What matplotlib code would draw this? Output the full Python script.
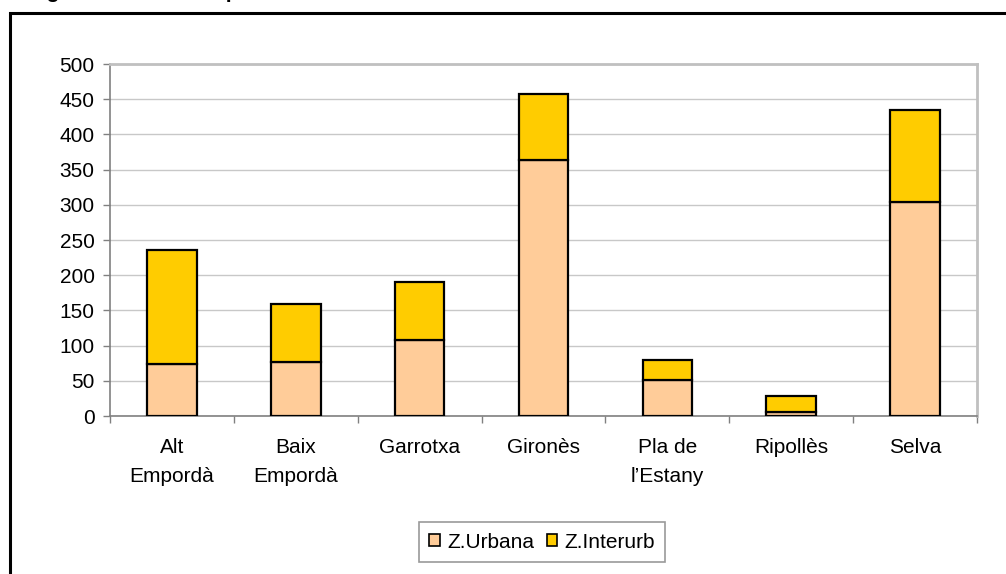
import numpy as np
import matplotlib.pyplot as plt
from matplotlib.patches import Rectangle

# dades
comarques = ["Alt\nEmpordà", "Baix\nEmpordà", "Garrotxa", "Gironès",
             "Pla de\nl\u2019Estany", "Ripollès", "Selva"]
urbana = [74, 77, 108, 364, 51, 5, 304]
interurb_total = [236, 159, 190, 457, 80, 28, 435]
interurb = [t - u for t, u in zip(interurb_total, urbana)]
yticks = [0, 50, 100, 150, 200, 250, 300, 350, 400, 450, 500]

plt.rcParams['font.family'] = ['Liberation Sans', 'DejaVu Sans']

fig = plt.figure(figsize=(10.06, 5.74), dpi=100)
ax = fig.add_axes([110 / 1006, 1 - 416 / 574, 867 / 1006, 352 / 574])

x = np.arange(len(comarques))
c_urb = "#FFCC99"
c_int = "#FFCC00"
ax.bar(x, urbana, width=0.4, color=c_urb, edgecolor="black", linewidth=1.6, zorder=3)
ax.bar(x, interurb, width=0.4, bottom=urbana, color=c_int, edgecolor="black",
       linewidth=1.6, zorder=3)

ax.set_xlim(-0.5, len(comarques) - 0.5)
ax.set_ylim(0, 500)
ax.set_yticks(yticks)
ax.yaxis.grid(True, color="#c8c8c8", linewidth=1, zorder=0)

# etiquetes centrades, marques entre categories
ax.set_xticks(x)
ax.set_xticklabels(comarques, linespacing=1.65, fontsize=15)
ax.set_xticks(np.arange(-0.5, len(comarques)), minor=True)
ax.tick_params(axis="x", which="major", length=0, pad=16)
ax.tick_params(axis="x", which="minor", length=5, width=1, color="#808080")
ax.tick_params(axis="y", length=5, width=1, color="#808080", pad=6, labelsize=15)

for s in ["left", "bottom"]:
    ax.spines[s].set_color("#808080")
    ax.spines[s].set_linewidth(1.2)
for s in ["top", "right"]:
    ax.spines[s].set_color("#c0c0c0")
    ax.spines[s].set_linewidth(2)

handles = [Rectangle((0, 0), 1, 1, facecolor=c_urb, edgecolor="black", linewidth=1.2),
           Rectangle((0, 0), 1, 1, facecolor=c_int, edgecolor="black", linewidth=1.2)]
leg = fig.legend(handles, ["Z.Urbana", "Z.Interurb"], loc="center",
                 bbox_to_anchor=(542 / 1006, 1 - 542 / 574), ncol=2, fontsize=15,
                 frameon=True, fancybox=False, edgecolor="#808080",
                 handlelength=0.5, handleheight=0.5, handletextpad=0.35,
                 columnspacing=0.6, borderpad=0.5)
leg.get_frame().set_linewidth(1.2)

# marc del gràfic
fig.patches.append(Rectangle((10 / 1006, -0.1), 1.2, 1 - 13 / 574 + 0.1,
                             transform=fig.transFigure, fill=False,
                             edgecolor="black", linewidth=2.2))

# títol retallat per la vora superior
fig.text(28 / 1006, 1 + 2.5 / 574, "Figura 4. Accidents per zona i comarca",
         fontsize=15, fontweight="bold", ha="left", va="baseline")

fig.savefig("out.png", dpi=100)
